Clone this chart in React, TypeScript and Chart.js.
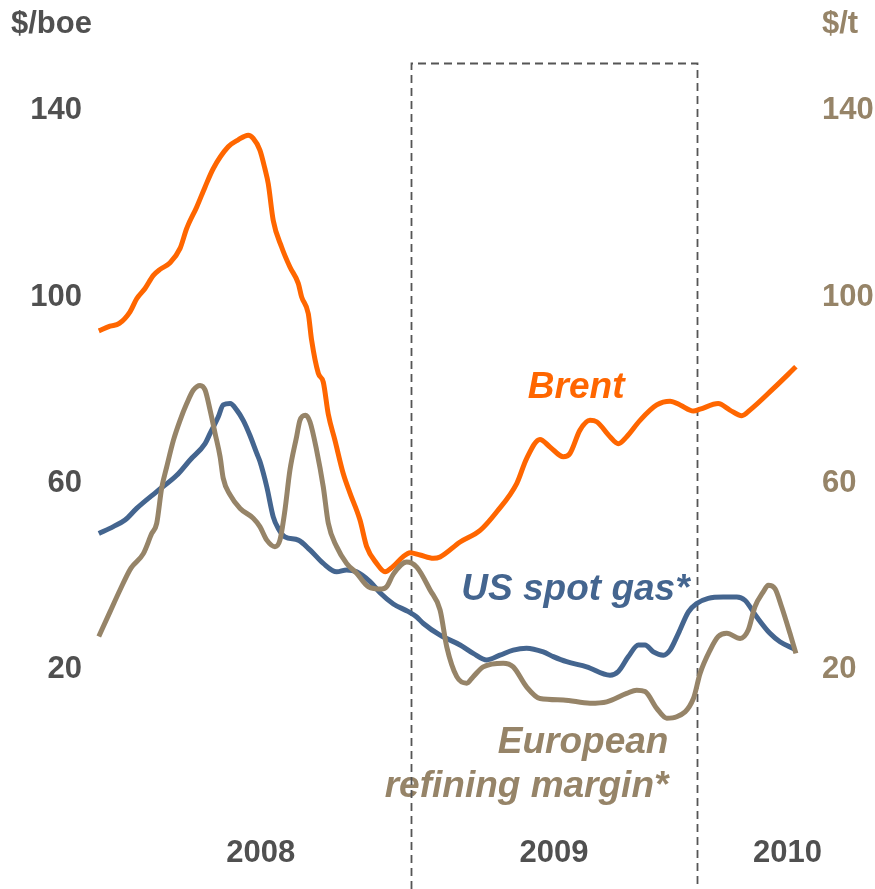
import React, { useEffect, useRef } from 'react';
import { Chart, registerables } from 'chart.js';

Chart.register(...registerables);

// x values are months since January 2008 (0 = 1 Jan 2008)
const brentMonths = [-1.1, -0.63, -0.24, 0.21, 0.49, 0.84, 1.19, 1.47, 1.89, 2.31, 2.59, 3.01, 3.36, 3.70, 4.33, 4.75, 5.17, 5.38, 5.66, 5.87, 6.01, 6.22, 6.57, 6.92, 7.27, 7.41, 7.69, 7.83, 8.11, 8.32, 8.53, 8.81, 9.15, 9.44, 9.86, 10.14, 10.56, 10.91, 11.24, 11.66, 11.96, 12.38, 12.94, 13.22, 14.06, 14.90, 15.60, 16.44, 16.85, 17.41, 17.83, 18.39, 18.67, 19.09, 19.51, 19.79, 20.35, 20.70, 21.05, 21.61, 22.31, 22.87, 23.29, 23.85, 24.13, 24.89, 25.38, 25.88, 26.22, 27.20, 28.15];
const brentValues = [92.3, 93.3, 93.9, 96.4, 99.2, 101.4, 104.2, 105.5, 106.9, 110.0, 114.3, 118.9, 123.2, 127.1, 131.8, 133.3, 134.3, 133.6, 131.1, 127.1, 123.9, 116.0, 110.3, 106.0, 102.5, 99.6, 96.0, 90.3, 83.2, 81.3, 74.4, 68.8, 61.8, 57.5, 51.7, 46.0, 42.4, 40.6, 41.7, 43.8, 44.7, 44.2, 43.5, 43.8, 47.0, 49.5, 53.5, 59.6, 64.9, 69.0, 67.4, 65.3, 66.0, 71.0, 73.1, 72.8, 69.6, 68.1, 69.6, 73.1, 76.4, 77.2, 76.4, 75.1, 75.5, 76.7, 75.3, 74.1, 75.3, 79.9, 84.6];

const gasMonths = [-1.1, -0.49, 0, 0.49, 1.33, 2.17, 2.73, 3.36, 3.57, 3.91, 4.12, 4.41, 4.69, 4.96, 5.24, 5.53, 5.66, 5.95, 6.22, 6.43, 6.71, 7.27, 7.76, 8.32, 8.88, 9.30, 9.72, 10.28, 10.70, 11.26, 11.87, 12.24, 12.52, 13.22, 14.06, 14.61, 15.18, 15.73, 16.29, 16.85, 17.55, 17.97, 18.53, 19.37, 20.35, 20.70, 21.12, 21.54, 21.82, 22.17, 22.59, 22.87, 23.22, 23.64, 23.99, 24.47, 25.10, 25.67, 26.01, 26.51, 27.06, 27.48, 28.1];
const gasValues = [48.8, 50.3, 51.7, 54.2, 57.8, 61.3, 64.6, 68.1, 70.3, 73.8, 76.4, 76.7, 75.3, 73.1, 69.9, 66.0, 64.3, 58.8, 52.4, 49.9, 48.1, 47.4, 45.3, 42.4, 40.6, 41.0, 40.6, 38.5, 36.1, 33.7, 32.1, 30.9, 29.5, 27.0, 24.9, 23.1, 21.7, 22.7, 23.8, 24.2, 23.4, 22.4, 21.3, 20.2, 18.4, 19.2, 22.4, 24.9, 24.9, 23.4, 22.7, 23.8, 27.4, 32.0, 33.8, 34.9, 35.2, 35.2, 34.5, 30.9, 27.4, 25.6, 24.0];

const marginMonths = [-1.1, -0.63, -0.21, 0.25, 0.77, 1.12, 1.33, 1.54, 1.75, 2.03, 2.31, 2.59, 2.87, 3.15, 3.36, 3.57, 3.78, 3.99, 4.12, 4.41, 4.83, 5.38, 5.66, 5.95, 6.29, 6.50, 6.71, 6.92, 7.20, 7.34, 7.57, 7.76, 8.04, 8.32, 8.53, 8.88, 9.30, 9.72, 10.21, 10.77, 10.98, 11.26, 11.82, 12.24, 12.80, 13.22, 13.50, 13.92, 14.34, 14.61, 15.03, 15.87, 16.29, 16.85, 17.41, 18.39, 19.51, 20.21, 21.05, 21.47, 21.82, 22.31, 22.73, 23.15, 23.85, 24.13, 24.55, 24.89, 25.25, 25.81, 26.15, 26.43, 26.78, 26.99, 27.27, 27.55, 27.90, 28.15];
const marginValues = [26.7, 32.0, 36.7, 41.4, 44.5, 48.8, 51.0, 58.6, 63.1, 68.8, 73.1, 76.7, 79.6, 80.6, 79.6, 75.3, 70.3, 65.3, 60.7, 57.1, 54.2, 52.1, 50.3, 47.4, 46.0, 47.4, 53.8, 62.4, 69.6, 73.1, 74.2, 72.8, 66.7, 58.8, 51.0, 46.0, 42.4, 40.3, 37.4, 36.9, 37.4, 40.1, 42.7, 41.6, 36.7, 32.4, 24.5, 18.1, 16.7, 18.1, 20.2, 21.0, 20.2, 15.9, 13.4, 13.1, 12.4, 12.7, 14.5, 15.2, 14.9, 11.3, 9.2, 9.5, 13.4, 18.8, 23.8, 26.7, 27.4, 26.3, 28.1, 33.1, 36.3, 37.7, 37.0, 33.1, 27.4, 23.1];

const yTicks = [20, 60, 100, 140];
const yearTickPos = [5.7, 18.0, 27.8];
const yearLabels = ['2008', '2009', '2010'];
const highlightStart = 12; // Jan 2009
const highlightEnd = 24; // Jan 2010

const X_MIN = -1.133;
const X_MAX = 28.196;
const Y_MIN = 0;
const Y_MAX = 150;

const ORANGE = '#FF6600';
const BLUE = '#44658F';
const TAN = '#968468';
const GREY = '#505050';
const FONT = '"Liberation Sans", Arial, sans-serif';

const pts = (xs: number[], ys: number[]) => xs.map((x, i) => ({ x, y: ys[i] }));

const annotations = {
  id: 'annotations',
  beforeDatasetsDraw(chart: any) {
    const { ctx, scales } = chart;
    const x = scales.x;
    const y = scales.y;
    ctx.save();
    // axis titles
    ctx.font = `bold 31px ${FONT}`;
    ctx.textBaseline = 'alphabetic';
    ctx.textAlign = 'left';
    ctx.fillStyle = GREY;
    ctx.fillText('$/boe', 11, 33);
    ctx.fillStyle = TAN;
    ctx.fillText('$/t', 822, 33);

    // series labels
    ctx.font = `italic bold 37px ${FONT}`;
    ctx.fillStyle = ORANGE;
    ctx.textAlign = 'center';
    ctx.fillText('Brent', x.getPixelForValue(18.93), y.getPixelForValue(78));
    ctx.fillStyle = BLUE;
    ctx.fillText('US spot gas*', x.getPixelForValue(18.9), y.getPixelForValue(34.5));
    ctx.fillStyle = TAN;
    ctx.textAlign = 'right';
    ctx.fillText('European', x.getPixelForValue(22.8), y.getPixelForValue(1.7));
    ctx.fillText('refining margin*', x.getPixelForValue(22.8), y.getPixelForValue(-7.7));

    // dashed 2009 box
    const xl = Math.round(x.getPixelForValue(highlightStart)) + 0.5;
    const xr = Math.round(x.getPixelForValue(highlightEnd)) + 0.5;
    const yt = Math.round(y.getPixelForValue(Y_MAX)) + 1.5;
    ctx.setLineDash([8, 5]);
    ctx.lineWidth = 1.8;
    ctx.strokeStyle = '#555555';
    ctx.beginPath();
    ctx.moveTo(xl, chart.height);
    ctx.lineTo(xl, yt);
    ctx.lineTo(xr, yt);
    ctx.lineTo(xr, chart.height);
    ctx.stroke();
    ctx.restore();
  },
};

export default function App() {
  const ref = useRef<HTMLCanvasElement>(null);
  useEffect(() => {
    document.body.style.margin = '0';
    const canvas = ref.current;
    if (!canvas) return;
    const lineDs = (label: string, data: any[], color: string, axis: string) => ({
      label,
      data,
      borderColor: color,
      backgroundColor: color,
      borderWidth: 5,
      pointRadius: 0,
      fill: false,
      cubicInterpolationMode: 'monotone' as const,
      borderJoinStyle: 'round' as const,
      borderCapStyle: 'butt' as const,
      yAxisID: axis,
      clip: false as any,
    });
    const chart = new Chart(canvas, {
      type: 'line',
      data: {
        datasets: [
          lineDs('European refining margin', pts(marginMonths, marginValues), TAN, 'y2'),
          lineDs('US spot gas', pts(gasMonths, gasValues), BLUE, 'y'),
          lineDs('Brent', pts(brentMonths, brentValues), ORANGE, 'y'),
        ],
      },
      options: {
        responsive: false,
        animation: false,
        devicePixelRatio: 1,
        layout: { padding: { top: 62, left: 0, right: 0, bottom: 0 } },
        plugins: { legend: { display: false }, tooltip: { enabled: false } },
        scales: {
          x: {
            type: 'linear',
            min: X_MIN,
            max: X_MAX,
            grid: { display: false, drawTicks: false },
            border: { display: false },
            afterBuildTicks: (s: any) => {
              s.ticks = yearTickPos.map((v) => ({ value: v }));
            },
            afterFit: (s: any) => {
              s.height = 128;
              s.paddingLeft = 0;
              s.paddingRight = 0;
            },
            ticks: {
              autoSkip: false,
              maxRotation: 0,
              padding: 74,
              color: GREY,
              font: { family: FONT, size: 31, weight: 'bold' },
              callback: (_v: any, i: number) => yearLabels[i],
            },
          },
          y: {
            position: 'left',
            min: Y_MIN,
            max: Y_MAX,
            grid: { display: false, drawTicks: false },
            border: { display: false },
            afterBuildTicks: (s: any) => {
              s.ticks = yTicks.map((v) => ({ value: v }));
            },
            afterFit: (s: any) => {
              s.width = 98;
              s.paddingTop = 0;
              s.paddingBottom = 0;
            },
            ticks: {
              padding: 16,
              labelOffset: 2,
              color: GREY,
              font: { family: FONT, size: 31, weight: 'bold' },
            },
          },
          y2: {
            position: 'right',
            min: Y_MIN,
            max: Y_MAX,
            grid: { display: false, drawTicks: false },
            border: { display: false },
            afterBuildTicks: (s: any) => {
              s.ticks = yTicks.map((v) => ({ value: v }));
            },
            afterFit: (s: any) => {
              s.width = 78;
              s.paddingTop = 0;
              s.paddingBottom = 0;
            },
            ticks: {
              padding: 25,
              labelOffset: 2,
              color: TAN,
              font: { family: FONT, size: 31, weight: 'bold' },
            },
          },
        },
      },
      plugins: [annotations],
    });
    return () => chart.destroy();
  }, []);
  return (
    <div style={{ width: 875, height: 889, position: 'relative' }}>
      <canvas ref={ref} width={875} height={889} />
    </div>
  );
}
